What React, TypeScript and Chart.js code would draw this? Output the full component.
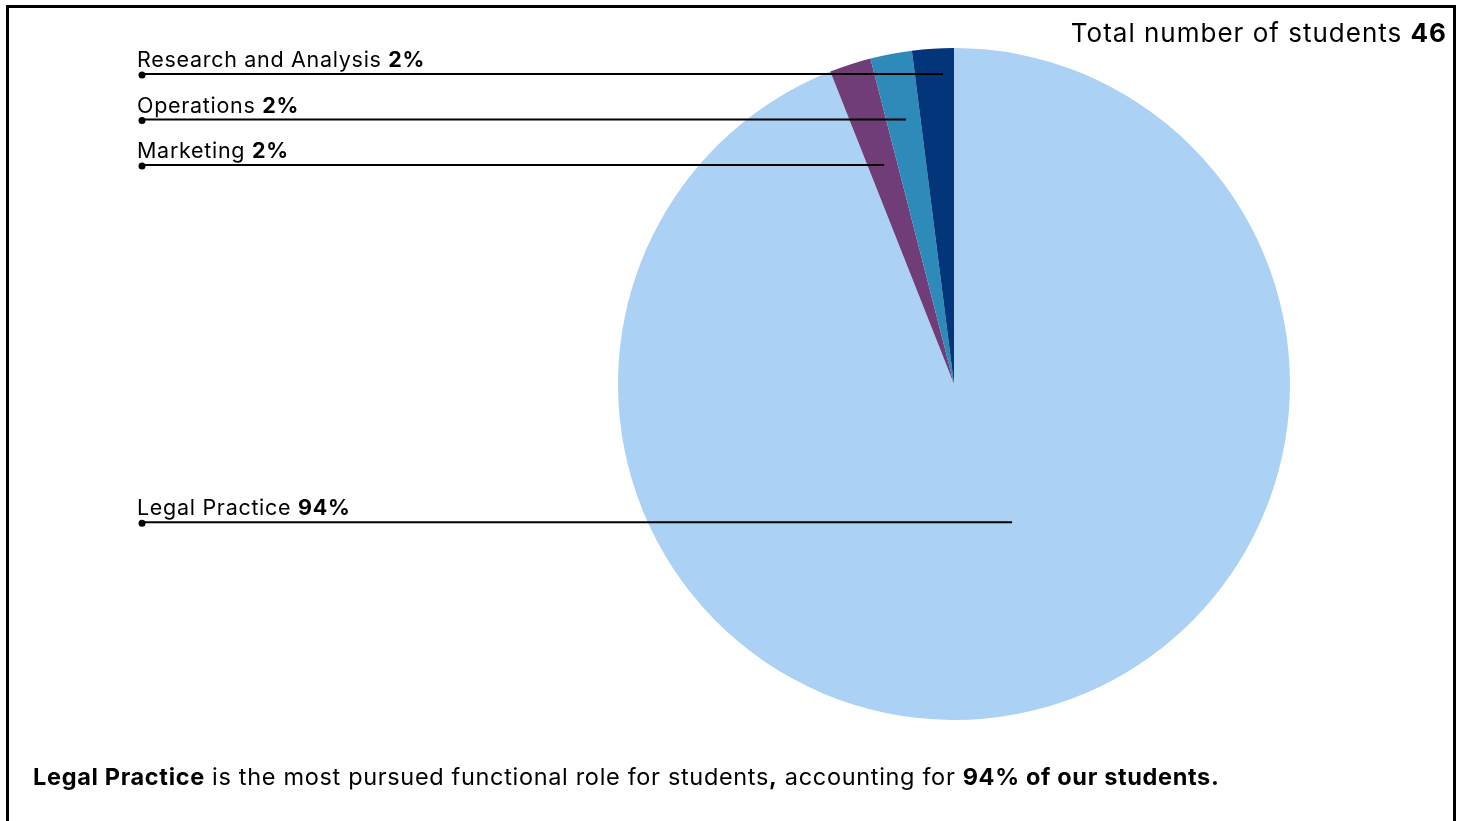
import React, { useEffect, useRef } from "react";
import { Chart, registerables } from "chart.js";

Chart.register(...registerables);

// ---- data ----
const categories = ["Legal Practice", "Marketing", "Operations", "Research and Analysis"];
const percentValues = [94, 2, 2, 2];
const totalStudents = 46;
const sliceColors = ["#abd1f5", "#703d79", "#2e8ab9", "#03357a"];
const headline = "Legal Practice";

// ---- label styling (where inside each slice the leader line ends) ----
const leaderAngleFrac = [0.4645, 0.54, 0.57, 0.72];
const leaderRadiusFrac = [0.446, 0.684, 0.8, 0.923];
const leaderLeftX = 142;
const FONT = "Inter, 'Open Sans', sans-serif";

const W = 1465;
const H = 821;

function drawRuns(
  ctx: CanvasRenderingContext2D,
  x: number,
  y: number,
  size: number,
  spacing: number,
  runs: [string, boolean][],
  align: "left" | "right" = "left"
) {
  (ctx as any).letterSpacing = spacing + "px";
  const widths = runs.map(([t, b]) => {
    ctx.font = `${b ? 700 : 400} ${size}px ${FONT}`;
    return ctx.measureText(t).width;
  });
  const total = widths.reduce((a, b) => a + b, 0);
  let cx = align === "left" ? x : x - total;
  ctx.textAlign = "left";
  ctx.textBaseline = "alphabetic";
  runs.forEach(([t, b], i) => {
    ctx.font = `${b ? 700 : 400} ${size}px ${FONT}`;
    ctx.fillText(t, cx, y);
    cx += widths[i];
  });
  (ctx as any).letterSpacing = "0px";
}

const annotationPlugin = {
  id: "annotations",
  afterDatasetsDraw(chart: any) {
    const ctx: CanvasRenderingContext2D = chart.ctx;
    const meta = chart.getDatasetMeta(0);
    ctx.save();
    ctx.fillStyle = "#000";
    ctx.strokeStyle = "#000";
    meta.data.forEach((arc: any, i: number) => {
      const p = arc.getProps(["x", "y", "startAngle", "endAngle", "outerRadius"], true);
      const a = p.startAngle + (p.endAngle - p.startAngle) * leaderAngleFrac[i];
      const r = p.outerRadius * leaderRadiusFrac[i];
      const ex = p.x + r * Math.cos(a);
      const ey = p.y + r * Math.sin(a);
      ctx.lineWidth = 2;
      ctx.beginPath();
      ctx.moveTo(leaderLeftX, ey);
      ctx.lineTo(ex, ey);
      ctx.stroke();
      ctx.beginPath();
      ctx.arc(leaderLeftX, ey + 1, 3.5, 0, Math.PI * 2);
      ctx.fill();
      drawRuns(ctx, leaderLeftX - 5, ey - 7, 21.5, 0.7, [
        [categories[i] + " ", false],
        [percentValues[i] + "%", true],
      ]);
    });
    // title
    drawRuns(
      ctx,
      1447,
      42,
      26,
      1,
      [
        ["Total number of students ", false],
        [String(totalStudents), true],
      ],
      "right"
    );
    // footer
    const idx = categories.indexOf(headline);
    drawRuns(ctx, 33, 785, 23.5, 0.67, [
      [headline, true],
      [" is the most pursued functional role for students", false],
      [",", true],
      [" accounting for ", false],
      [percentValues[idx] + "% of our students.", true],
    ]);
    ctx.restore();
  },
};

export default function App() {
  const ref = useRef<HTMLCanvasElement>(null);
  useEffect(() => {
    if (!ref.current) return;
    const chart = new Chart(ref.current, {
      type: "pie",
      data: {
        labels: categories,
        datasets: [
          {
            data: percentValues,
            backgroundColor: sliceColors,
            borderWidth: 0,
          },
        ],
      },
      options: {
        responsive: false,
        animation: false,
        devicePixelRatio: 1,
        layout: { padding: { left: 618, right: W - 1290, top: 48, bottom: H - 720 } },
        plugins: {
          legend: { display: false },
          tooltip: { enabled: false },
        },
      },
      plugins: [annotationPlugin],
    });
    return () => chart.destroy();
  }, []);

  return (
    <div style={{ position: "absolute", left: 0, top: 0, width: W, height: H, overflow: "hidden", background: "#fff" }}>
      <div
        style={{
          position: "absolute",
          left: 6,
          top: 5,
          width: 1444,
          height: 900,
          border: "3px solid #000",
        }}
      />
      <canvas ref={ref} width={W} height={H} style={{ position: "absolute", left: 0, top: 0, width: W, height: H }} />
    </div>
  );
}
